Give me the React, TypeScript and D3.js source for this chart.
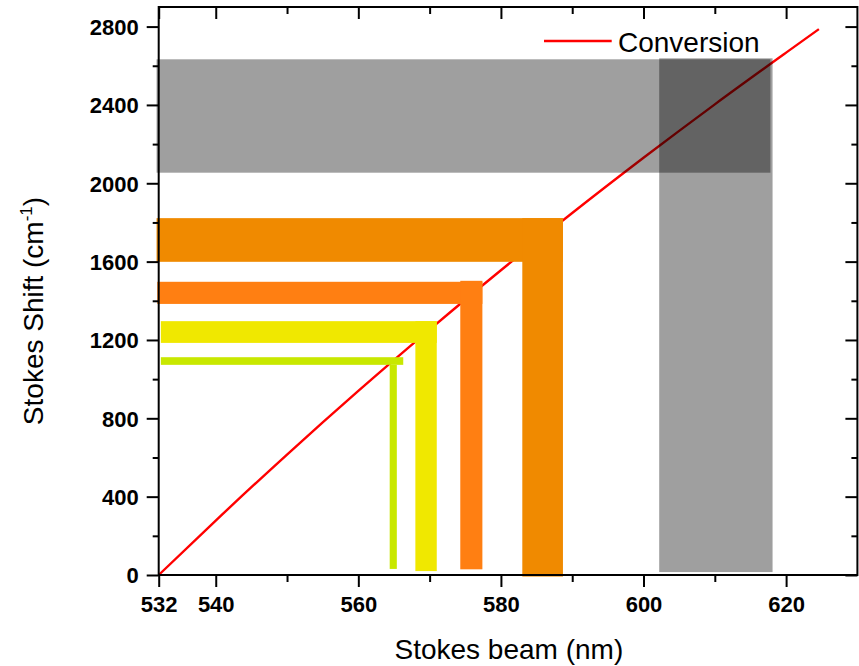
import React, { useRef, useEffect } from 'react';
import * as d3 from 'd3';

// conversion curve (nm -> cm^-1)
const lineWavelength = [532, 540, 550, 560, 570, 580, 590, 600, 610, 620, 624.6];
const lineShift = [0, 278, 615, 940, 1253, 1556, 1848, 2130, 2403, 2667, 2787];

// L-shaped bands: horizontal part (shift range) + vertical part (wavelength range)
const bandColors = ['#000000', '#F08A00', '#FF7F12', '#F0E800', '#C8E800'];
const bandOpacity = [0.375, 1, 1, 1, 1];
const hX0 = [531.7, 531.7, 531.8, 532.3, 532.3];
const hX1 = [617.8, 588.7, 577.4, 571.0, 566.3];
const hY0 = [2054, 1599, 1384, 1185, 1073];
const hY1 = [2633, 1822, 1497, 1296, 1112];
const vX0 = [602.2, 583.0, 574.3, 568.0, 564.4];
const vX1 = [618.1, 588.7, 577.4, 571.0, 565.4];
const vY0 = [15, -8, 29, 20, 31];
const vY1 = [2638, 1822, 1502, 1296, 1073];

const xLabels = [532, 540, 560, 580, 600, 620];
const xTicks = [532, 540, 550, 560, 570, 580, 590, 600, 610, 620];
const yTicks = d3.range(0, 2801, 200);

const W = 859;
const H = 666;

const App = () => {
  const svgRef = useRef(null);

  useEffect(() => {
    const margin = { top: 7, right: 1.6, bottom: 91, left: 158.7 };
    const width = W - margin.left - margin.right;
    const height = H - margin.top - margin.bottom;

    const root = d3.select(svgRef.current);
    root.selectAll('*').remove();
    const svg = root.append('g')
      .attr('transform', `translate(${margin.left},${margin.top})`);

    const x = d3.scaleLinear().domain([532, 630]).range([0, width]);
    const y = d3.scaleLinear().domain([0, 2900]).range([height, 0]);

    // conversion line
    const pts = lineWavelength.map((w, i) => [w, lineShift[i]]);
    svg.append('path')
      .datum(pts)
      .attr('fill', 'none')
      .attr('stroke', '#FF0000')
      .attr('stroke-width', 2.4)
      .attr('d', d3.line().x((d) => x(d[0])).y((d) => y(d[1])).curve(d3.curveMonotoneX));

    // bands
    bandColors.forEach((c, i) => {
      svg.append('rect')
        .attr('x', x(hX0[i]))
        .attr('y', y(hY1[i]))
        .attr('width', x(hX1[i]) - x(hX0[i]))
        .attr('height', y(hY0[i]) - y(hY1[i]))
        .attr('fill', c)
        .attr('fill-opacity', bandOpacity[i]);
      svg.append('rect')
        .attr('x', x(vX0[i]))
        .attr('y', y(vY1[i]))
        .attr('width', x(vX1[i]) - x(vX0[i]))
        .attr('height', y(vY0[i]) - y(vY1[i]))
        .attr('fill', c)
        .attr('fill-opacity', bandOpacity[i]);
    });

    const tickFmt = (lab) => (d) => (lab.includes(d) ? d : '');
    const isMajorX = (d) => xLabels.includes(d);
    const isMajorY = (d) => d % 400 === 0;

    const styleAxis = (g) => {
      g.select('.domain').remove();
      g.selectAll('line').attr('stroke', '#000').attr('stroke-width', 2);
      g.selectAll('text')
        .attr('fill', '#000')
        .style('font-family', '"Liberation Sans", Arial, sans-serif')
        .style('font-weight', 'bold')
        .style('font-size', '22px');
    };

    // bottom
    const gx = svg.append('g')
      .attr('transform', `translate(0,${height})`)
      .call(d3.axisBottom(x).tickValues(xTicks).tickFormat(tickFmt(xLabels)).tickSize(12).tickPadding(9));
    styleAxis(gx);
    gx.selectAll('.tick line').attr('y2', (d) => (isMajorX(d) ? 12 : 7));

    // top (inward)
    const gt = svg.append('g')
      .call(d3.axisTop(x).tickValues(xTicks).tickFormat(() => '').tickSizeInner(-12));
    styleAxis(gt);
    gt.selectAll('.tick line').attr('y2', (d) => (isMajorX(d) ? 12 : 7));

    // left
    const gy = svg.append('g')
      .call(d3.axisLeft(y).tickValues(yTicks).tickFormat((d) => (isMajorY(d) ? d : '')).tickSize(12).tickPadding(8));
    styleAxis(gy);
    gy.selectAll('.tick line').attr('x2', (d) => (isMajorY(d) ? -12 : -6));
    gy.selectAll('text').attr('dy', '0.36em');

    // right (inward)
    const gr = svg.append('g')
      .attr('transform', `translate(${width},0)`)
      .call(d3.axisRight(y).tickValues(yTicks).tickFormat(() => ''));
    styleAxis(gr);
    gr.selectAll('.tick line').attr('x2', (d) => (isMajorY(d) ? -12 : -6));

    // frame
    svg.append('rect')
      .attr('x', 0).attr('y', 0)
      .attr('width', width).attr('height', height)
      .attr('fill', 'none')
      .attr('stroke', '#000')
      .attr('stroke-width', 2);

    // axis titles
    svg.append('text')
      .attr('x', (392.7 + 625) / 2 - margin.left)
      .attr('y', 659 - margin.top)
      .attr('text-anchor', 'middle')
      .style('font-family', '"Liberation Sans", Arial, sans-serif')
      .style('font-size', '28px')
      .text('Stokes beam (nm)');

    const yt = svg.append('text')
      .attr('transform', `translate(${43 - margin.left},${311 - margin.top}) rotate(-90)`)
      .attr('text-anchor', 'middle')
      .style('font-family', '"Liberation Sans", Arial, sans-serif')
      .style('font-size', '28px');
    yt.append('tspan').text('Stokes Shift (cm');
    yt.append('tspan').attr('dy', -11).style('font-size', '17px').text('-1');
    yt.append('tspan').attr('dy', 11).text(')');

    // legend
    svg.append('line')
      .attr('x1', 544 - margin.left).attr('x2', 611.7 - margin.left)
      .attr('y1', 41 - margin.top).attr('y2', 41 - margin.top)
      .attr('stroke', '#FF0000').attr('stroke-width', 2.4);
    svg.append('text')
      .attr('x', 618 - margin.left)
      .attr('y', 52 - margin.top)
      .style('font-family', '"Liberation Sans", Arial, sans-serif')
      .style('font-size', '28px')
      .text('Conversion');
  }, []);

  return (
    <svg ref={svgRef} width={W} height={H} style={{ position: 'absolute', left: 0, top: 0, background: '#fff' }}></svg>
  );
};

export default App;
